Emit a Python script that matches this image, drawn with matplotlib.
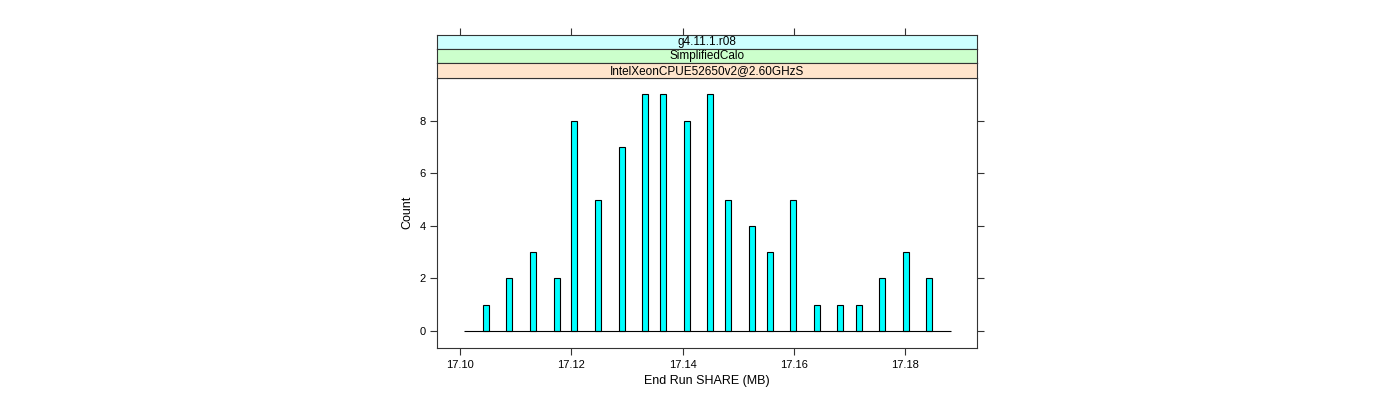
import matplotlib
matplotlib.use("Agg")
import matplotlib.pyplot as plt

# histogram of end-run SHARE memory (MB)
share_mb = [17.10457, 17.10881, 17.11308, 17.11734, 17.12051, 17.12482, 17.12903,
            17.13328, 17.13641, 17.14073, 17.14497, 17.14821, 17.15247, 17.15566,
            17.15990, 17.16417, 17.16836, 17.17167, 17.17586, 17.18012, 17.18437]
counts = [1, 2, 3, 2, 8, 5, 7, 9, 9, 8, 9, 5, 4, 3, 5, 1, 1, 1, 2, 3, 2]
hist_range = [17.10067, 17.18822]
bin_width = 0.00108

strips = ["g4.11.1.r08", "SimplifiedCalo", "IntelXeonCPUE52650v2@2.60GHzS"]
strip_colors = ["#ccffff", "#ccffcc", "#ffe5cc"]
xticks = [17.10, 17.12, 17.14, 17.16, 17.18]
yticks = [0, 2, 4, 6, 8]
xlim = (17.09586, 17.19295)

plt.rcParams['font.family'] = ['Liberation Sans', 'DejaVu Sans']
W, H = 1400, 400
fig = plt.figure(figsize=(14, 4), dpi=100)

left, right = 437.3 / W, 977 / W
ax = fig.add_axes([left, (H - 347.7) / H, right - left, (347.7 - 77.7) / H])

ax.bar(share_mb, counts, width=bin_width, color="#00ffff", edgecolor="black", linewidth=0.8)
ax.hlines(0, hist_range[0], hist_range[1], color="black", linewidth=0.8)

ax.set_xlim(*xlim)
ax.set_ylim(-0.63, 9.63)
ax.set_xticks(xticks)
ax.set_xticklabels(["%.2f" % v for v in xticks])
ax.set_yticks(yticks)
ax.tick_params(axis="both", direction="out", length=5, width=0.8, labelsize=8, color="#333333")
ax.tick_params(axis="y", right=True, rotation=0)
ax.set_xlabel("End Run SHARE (MB)", fontsize=9)
ax.set_ylabel("Count", fontsize=9)
for s in ax.spines.values():
    s.set_color("#333333")
    s.set_linewidth(0.8)

# strips, top to bottom
strip_h = (77.7 - 35) / 3 / H
for i, (label, col) in enumerate(zip(strips, strip_colors)):
    y0 = (H - 77.7) / H + (2 - i) * strip_h
    sax = fig.add_axes([left, y0, right - left, strip_h])
    sax.set_facecolor(col)
    sax.set_xlim(*xlim)
    sax.set_yticks([])
    if i == 0:
        sax.set_xticks(xticks)
        sax.tick_params(axis="x", bottom=False, labelbottom=False, top=True,
                        direction="out", length=5, width=0.8, color="#333333")
    else:
        sax.set_xticks([])
    for s in sax.spines.values():
        s.set_color("#333333")
        s.set_linewidth(0.8)
    sax.text(0.5, 0.5, label, transform=sax.transAxes, ha="center", va="center", fontsize=8.5)

fig.savefig("out.png", dpi=100)
